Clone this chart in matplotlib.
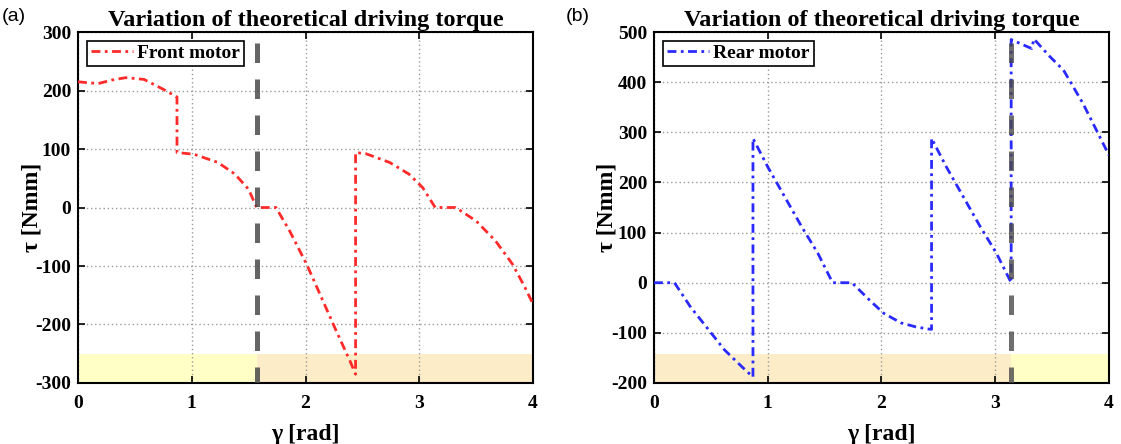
import matplotlib
matplotlib.use("Agg")
import matplotlib.pyplot as plt
import numpy as np

plt.rcParams['font.family'] = ['Liberation Serif', 'DejaVu Serif']
plt.rcParams['font.weight'] = 'bold'
plt.rcParams['axes.unicode_minus'] = False

# front motor torque
gamma_front = [0, 0.10, 0.18, 0.30, 0.42, 0.58, 0.75, 0.87, 0.87, 1.02, 1.23, 1.38,
               1.50, 1.57, 1.74, 1.86, 2.01, 2.14, 2.27, 2.39, 2.44, 2.44, 2.53,
               2.74, 2.91, 3.03, 3.14, 3.32, 3.50, 3.67, 3.82, 3.93, 4.0]
tau_front = [215, 213, 212, 218, 222, 219, 202, 189, 94, 91, 77, 57,
             31, 0, 0, -40, -97, -154, -211, -262, -285, 94, 92,
             77, 57, 34, 0, 0, -23, -57, -97, -137, -165]

# rear motor torque
gamma_rear = [0, 0.18, 0.32, 0.47, 0.62, 0.77, 0.87, 0.87, 1.0, 1.15, 1.30, 1.44,
              1.57, 1.74, 1.91, 2.02, 2.17, 2.30, 2.40, 2.44, 2.44, 2.57, 2.72,
              2.87, 3.01, 3.14, 3.14, 3.32, 3.34, 3.48, 3.60, 3.77, 3.89, 4.0]
tau_rear = [0, 0, -48, -91, -134, -167, -188, 288, 231, 171, 111, 59,
            0, 0, -38, -61, -80, -88, -92, -93, 288, 231, 171,
            111, 59, 0, 485, 467, 486, 451, 424, 358, 304, 254]

YELLOW = '#ffffc6'
ORANGE = '#fcecc8'


def style_axes(ax, ylim, yticks):
    ax.set_xlim(0, 4)
    ax.set_ylim(*ylim)
    ax.set_xticks([0, 1, 2, 3, 4])
    ax.set_yticks(yticks)
    ax.tick_params(direction='in', top=True, right=True, length=5, width=1.2,
                   labelsize=14, pad=5)
    ax.tick_params(axis='x', pad=8.5)
    ax.grid(True, linestyle=(0, (1, 2)), color='#9a9a9a', linewidth=1)
    for s in ax.spines.values():
        s.set_linewidth(1.5)
    ax.set_title('Variation of theoretical driving torque', fontsize=17.5,
                 fontweight='bold', pad=4)
    ax.set_xlabel('γ [rad]', fontsize=17, fontweight='bold', labelpad=9)
    ax.set_ylabel('τ [Nmm]', fontsize=17, fontweight='bold', labelpad=-5)


fig = plt.figure(figsize=(11.21, 4.44), dpi=100)
ax1 = fig.add_axes([0.0696, 0.1374, 0.4059, 0.7905])
ax2 = fig.add_axes([0.5834, 0.1374, 0.4059, 0.7905])

# (a) front motor
ylo, yhi = -300, 300
band = (yhi - ylo) / 12
ax1.fill_between([0, np.pi / 2], ylo, ylo + band, color=YELLOW, lw=0, zorder=0)
ax1.fill_between([np.pi / 2, 4], ylo, ylo + band, color=ORANGE, lw=0, zorder=0)
ax1.plot(gamma_front, tau_front, color='#ff2a2a', lw=2, dashes=(3.2, 1.6, 1, 1.6),
         label='Front motor', zorder=3)
ax1.plot([np.pi / 2, np.pi / 2], [yhi, ylo], color='#4a4a4a', alpha=0.85, lw=3.6,
         linestyle=(5.0, (3.9, 3.3)), zorder=4)
style_axes(ax1, (ylo, yhi), [-300, -200, -100, 0, 100, 200, 300])

# (b) rear motor
ylo, yhi = -200, 500
band = (yhi - ylo) / 12
ax2.fill_between([0, np.pi], ylo, ylo + band, color=ORANGE, lw=0, zorder=0)
ax2.fill_between([np.pi, 4], ylo, ylo + band, color=YELLOW, lw=0, zorder=0)
ax2.plot(gamma_rear, tau_rear, color='#2a2aff', lw=2, dashes=(3.2, 1.6, 1, 1.6),
         label='Rear motor', zorder=3)
ax2.plot([np.pi, np.pi], [yhi, ylo], color='#4a4a4a', alpha=0.8, lw=3.6,
         linestyle=(5.0, (3.9, 3.3)), zorder=4)
style_axes(ax2, (ylo, yhi), [-200, -100, 0, 100, 200, 300, 400, 500])

for ax in (ax1, ax2):
    leg = ax.legend(loc='upper left', fontsize=14, fancybox=False, framealpha=1,
                    edgecolor='black', handlelength=2.2, borderpad=0.2,
                    handletextpad=0.2, borderaxespad=0.45)
    leg.get_frame().set_linewidth(1.2)

fig.text(0.002, 0.962, '(a)', fontsize=14, family='Liberation Sans',
         fontweight='normal', va='center')
fig.text(0.505, 0.962, '(b)', fontsize=14, family='Liberation Sans',
         fontweight='normal', va='center')

fig.savefig('out.png', dpi=100)
